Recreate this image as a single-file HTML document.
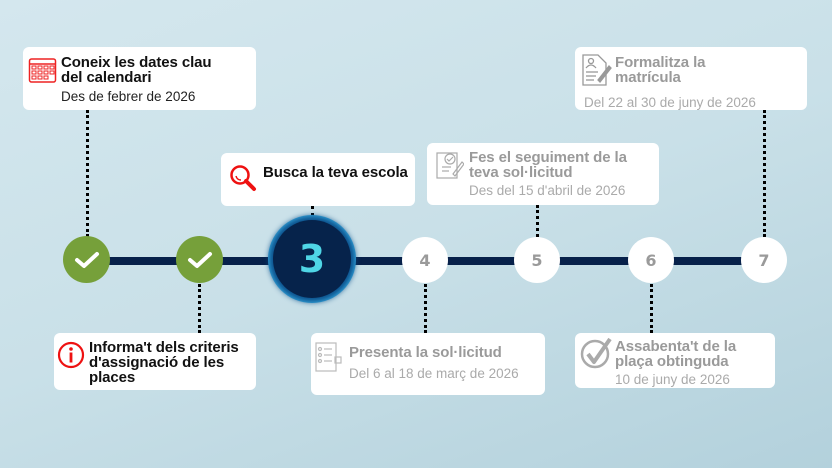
<!DOCTYPE html>
<html><head><meta charset="utf-8"><style>
*{margin:0;padding:0;box-sizing:border-box}
body{width:832px;height:468px;overflow:hidden;position:relative;font-family:"Liberation Sans",sans-serif;
background:linear-gradient(160deg,#d4e7ee 0%,#c9e0e8 50%,#b3d1dc 100%);}
.card{position:absolute;background:#fff;border-radius:6px;}
.t{position:absolute;font-weight:bold;font-size:15px;line-height:15px;color:#111;letter-spacing:-0.1px}
.g{color:#9a9a9a}
.s{position:absolute;font-size:13.5px;color:#222}
.sg{color:#aaa}
.dot{position:absolute;width:0;border-left:3px dotted #000;}
.c{position:absolute;border-radius:50%;display:flex;align-items:center;justify-content:center;font-weight:bold;font-family:"DejaVu Sans",sans-serif}
.w{width:46px;height:46px;background:#fff;color:#9a9a9a;font-size:16px}
</style></head><body>
<div style="position:absolute;left:87px;top:257px;width:677px;height:8px;background:#07214a"></div>

<div class="dot" style="left:86px;top:110px;height:127px"></div>
<div class="dot" style="left:198px;top:284px;height:49px"></div>
<div class="dot" style="left:311px;top:206px;height:10px"></div>
<div class="dot" style="left:424px;top:284px;height:49px"></div>
<div class="dot" style="left:536px;top:205px;height:32px"></div>
<div class="dot" style="left:650px;top:284px;height:49px"></div>
<div class="dot" style="left:763px;top:110px;height:127px"></div>

<div class="c" style="left:63px;top:236px;width:47px;height:47px;background:#76a03a"><svg width="26" height="20" viewBox="0 0 26 20"><path d="M3 10 L10 16 L23 4" stroke="#fff" stroke-width="4" fill="none" stroke-linecap="round" stroke-linejoin="round"/></svg></div>
<div class="c" style="left:176px;top:236px;width:47px;height:47px;background:#76a03a"><svg width="26" height="20" viewBox="0 0 26 20"><path d="M3 10 L10 16 L23 4" stroke="#fff" stroke-width="4" fill="none" stroke-linecap="round" stroke-linejoin="round"/></svg></div>
<div class="c" style="left:268px;top:215px;width:88px;height:88px;background:#3ab0e6;"><div style="width:78px;height:78px;border-radius:50%;background:#06234b;box-shadow:0 0 6px 4px #0b4f8a;display:flex;align-items:center;justify-content:center;color:#4fd6e6;font-size:38px">3</div></div>
<div class="c w" style="left:402px;top:237px">4</div>
<div class="c w" style="left:514px;top:237px">5</div>
<div class="c w" style="left:628px;top:237px">6</div>
<div class="c w" style="left:741px;top:237px">7</div>

<!-- card 1 -->
<div class="card" style="left:23px;top:47px;width:233px;height:63px"></div>
<svg style="position:absolute;left:28px;top:55px" width="30" height="30" viewBox="0 0 30 30"><rect x="1.5" y="4" width="26" height="23" rx="2" fill="none" stroke="#e22" stroke-width="1.5"/><line x1="1.5" y1="9" x2="27.5" y2="9" stroke="#e22" stroke-width="1.5"/><g fill="none" stroke="#e22" stroke-width="1"><rect x="4" y="11" width="4" height="3"/><rect x="10" y="11" width="4" height="3"/><rect x="16" y="11" width="4" height="3"/><rect x="22" y="11" width="4" height="3"/><rect x="4" y="16" width="4" height="3"/><rect x="10" y="16" width="4" height="3"/><rect x="16" y="16" width="4" height="3"/><rect x="22" y="16" width="4" height="3"/><rect x="4" y="21" width="4" height="3"/><rect x="10" y="21" width="4" height="3"/><rect x="16" y="21" width="4" height="3"/></g></svg>
<div class="t" style="left:61px;top:55px">Coneix les dates clau<br>del calendari</div>
<div class="s" style="left:61px;top:89px">Des de febrer de 2026</div>

<!-- busca -->
<div class="card" style="left:221px;top:153px;width:194px;height:53px"></div>
<svg style="position:absolute;left:228px;top:163px" width="30" height="30" viewBox="0 0 30 30"><circle cx="12" cy="12" r="8.5" fill="none" stroke="#e11" stroke-width="2.5"/><path d="M8 13 q1 4 5 4" fill="none" stroke="#e11" stroke-width="1.5"/><line x1="18" y1="18" x2="26" y2="26" stroke="#e11" stroke-width="4" stroke-linecap="round"/></svg>
<div class="t" style="left:263px;top:165px">Busca la teva escola</div>

<!-- 5 -->
<div class="card" style="left:427px;top:143px;width:232px;height:62px"></div>
<svg style="position:absolute;left:436px;top:150px" width="28" height="30" viewBox="0 0 28 30"><g fill="none" stroke="#aaa" stroke-width="1.2"><rect x="1" y="3" width="20" height="25"/><circle cx="14" cy="9" r="5"/><path d="M11 9l2 2 4-4"/><line x1="6" y1="17" x2="15" y2="17"/><line x1="6" y1="21" x2="13" y2="21"/><path d="M17 24 L26 12 L28 14 L19 26 Z"/></g></svg>
<div class="t g" style="left:469px;top:150px">Fes el seguiment de la<br>teva sol·licitud</div>
<div class="s sg" style="left:469px;top:183px">Des del 15 d'abril de 2026</div>

<!-- 7 -->
<div class="card" style="left:575px;top:47px;width:232px;height:63px"></div>
<svg style="position:absolute;left:582px;top:54px" width="30" height="32" viewBox="0 0 30 32"><g fill="none" stroke="#999" stroke-width="1.3"><path d="M1 1 H16 L24 9 V31 H1 Z"/><circle cx="9" cy="7" r="2.5"/><path d="M4 14 q5 -6 10 0"/><line x1="4" y1="18" x2="16" y2="18"/><line x1="4" y1="22" x2="14" y2="22"/><line x1="4" y1="26" x2="12" y2="26"/><path d="M16 26 L27 12 L29 14 L18 28 Z" fill="#999"/></g></svg>
<div class="t g" style="left:615px;top:55px">Formalitza la<br>matrícula</div>
<div class="s sg" style="left:584px;top:95px">Del 22 al 30 de juny de 2026</div>

<!-- 2 -->
<div class="card" style="left:54px;top:333px;width:202px;height:57px"></div>
<svg style="position:absolute;left:57px;top:341px" width="28" height="28" viewBox="0 0 28 28"><circle cx="14" cy="14" r="12" fill="none" stroke="#e11" stroke-width="2.2"/><circle cx="14" cy="8" r="1.8" fill="#e11"/><rect x="12.6" y="11.5" width="2.8" height="10" fill="#e11"/></svg>
<div class="t" style="left:89px;top:340px">Informa't dels criteris<br>d'assignació de les<br>places</div>

<!-- 4 -->
<div class="card" style="left:311px;top:333px;width:234px;height:62px"></div>
<svg style="position:absolute;left:315px;top:342px" width="30" height="32" viewBox="0 0 30 32"><g fill="none" stroke="#bbb" stroke-width="1.2"><rect x="1" y="1" width="20" height="28"/><circle cx="5" cy="7" r="1.5"/><circle cx="5" cy="13" r="1.5"/><circle cx="5" cy="19" r="1.5"/><line x1="9" y1="7" x2="17" y2="7"/><line x1="9" y1="13" x2="17" y2="13"/><line x1="9" y1="19" x2="17" y2="19"/><rect x="20" y="15" width="6" height="6"/></g></svg>
<div class="t g" style="left:349px;top:345px">Presenta la sol·licitud</div>
<div class="s sg" style="left:349px;top:366px">Del 6 al 18 de març de 2026</div>

<!-- 6 -->
<div class="card" style="left:575px;top:333px;width:200px;height:55px"></div>
<svg style="position:absolute;left:580px;top:337px" width="34" height="32" viewBox="0 0 34 32"><circle cx="15" cy="17" r="13" fill="none" stroke="#aaa" stroke-width="2.5"/><path d="M8 17 L14 25 L30 2" fill="none" stroke="#aaa" stroke-width="4" stroke-linejoin="round"/></svg>
<div class="t g" style="left:615px;top:339px">Assabenta't de la<br>plaça obtinguda</div>
<div class="s sg" style="left:615px;top:372px">10 de juny de 2026</div>
</body></html>
